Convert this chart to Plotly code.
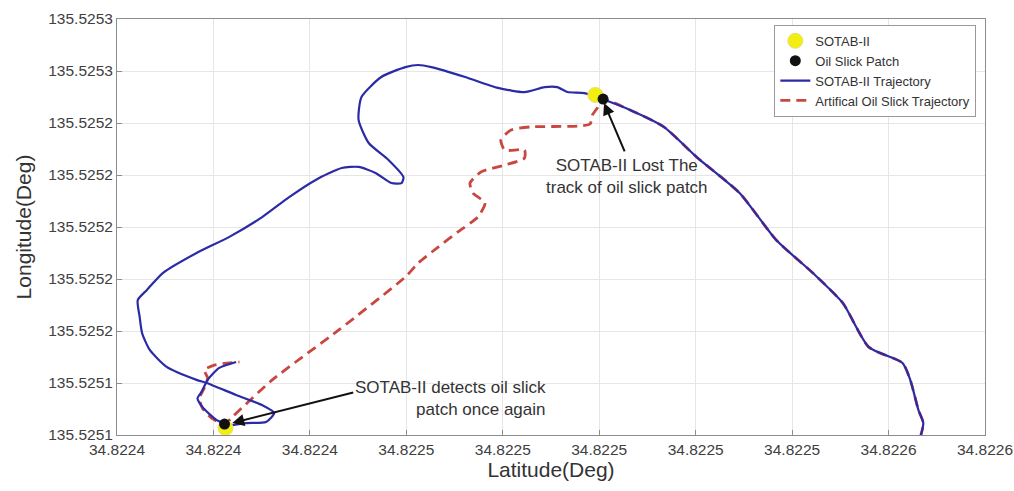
import plotly.graph_objects as go

# ---- data (degrees) ----
sotab_lat = [34.8225666, 34.8225672, 34.8225662, 34.8225645, 34.8225629, 34.8225559, 34.8225505,
             34.8225443, 34.8225367, 34.8225291, 34.8225202, 34.8225134, 34.8225064, 34.8225006,
             34.8224969, 34.8224934, 34.8224913, 34.8224887, 34.8224845, 34.8224790, 34.8224722,
             34.8224652, 34.8224625, 34.8224598, 34.8224548, 34.8224507, 34.8224501, 34.8224522,
             34.8224563, 34.8224594, 34.8224590, 34.8224569, 34.8224536, 34.8224501, 34.8224466,
             34.8224412, 34.8224357, 34.8224301, 34.8224233, 34.8224165, 34.8224095, 34.8224062,
             34.8224043, 34.8224047, 34.8224052, 34.8224068, 34.8224103, 34.8224165, 34.8224186,
             34.8224247, 34.8224301, 34.8224326, 34.8224309, 34.8224268, 34.8224233, 34.8224206,
             34.8224177, 34.8224167, 34.8224175, 34.8224188, 34.8224212, 34.8224247]
sotab_lon = [135.5251192, 135.5251246, 135.5251296, 135.5251412, 135.5251477, 135.5251538, 135.5251708,
             135.5251823, 135.5251950, 135.5252131, 135.5252269, 135.5252385, 135.5252450, 135.5252492,
             135.5252515, 135.5252519, 135.5252538, 135.5252538, 135.5252519, 135.5252535, 135.5252577,
             135.5252615, 135.5252623, 135.5252615, 135.5252577, 135.5252500, 135.5252412, 135.5252323,
             135.5252258, 135.5252192, 135.5252169, 135.5252169, 135.5252208, 135.5252231, 135.5252227,
             135.5252181, 135.5252115, 135.5252038, 135.5251962, 135.5251900, 135.5251823, 135.5251758,
             135.5251719, 135.5251654, 135.5251592, 135.5251527, 135.5251462, 135.5251412, 135.5251400,
             135.5251354, 135.5251315, 135.5251285, 135.5251250, 135.5251246, 135.5251238, 135.5251258,
             135.5251308, 135.5251342, 135.5251365, 135.5251412, 135.5251458, 135.5251481]

oil_lat = [34.8225666, 34.8225672, 34.8225662, 34.8225645, 34.8225629, 34.8225559, 34.8225505,
           34.8225443, 34.8225367, 34.8225291, 34.8225202, 34.8225134, 34.8225064, 34.8225006,
           34.8224996, 34.8224986, 34.8224981, 34.8224955, 34.8224858, 34.8224817, 34.8224796,
           34.8224804, 34.8224845, 34.8224845, 34.8224804, 34.8224755, 34.8224732, 34.8224738,
           34.8224763, 34.8224748, 34.8224707, 34.8224666, 34.8224625, 34.8224598, 34.8224460,
           34.8224322, 34.8224239, 34.8224223, 34.8224196, 34.8224177, 34.8224171, 34.8224181,
           34.8224188, 34.8224181, 34.8224202, 34.8224254]
oil_lon = [135.5251192, 135.5251246, 135.5251296, 135.5251412, 135.5251477, 135.5251538, 135.5251708,
           135.5251823, 135.5251950, 135.5252131, 135.5252269, 135.5252385, 135.5252450, 135.5252492,
           135.5252458, 135.5252431, 135.5252396, 135.5252388, 135.5252385, 135.5252373, 135.5252335,
           135.5252296, 135.5252296, 135.5252265, 135.5252238, 135.5252212, 135.5252169, 135.5252131,
           135.5252092, 135.5252038, 135.5251981, 135.5251923, 135.5251862, 135.5251808, 135.5251604,
           135.5251412, 135.5251269, 135.5251242, 135.5251265, 135.5251304, 135.5251342, 135.5251381,
           135.5251419, 135.5251450, 135.5251469, 135.5251481]

sotab_pos_lat = [34.8224992, 34.8224225]
sotab_pos_lon = [135.5252508, 135.5251227]
patch_lat = [34.8225008, 34.8224223]
patch_lon = [135.5252492, 135.5251242]

x_ticks = [34.82240, 34.82242, 34.82244, 34.82246, 34.82248, 34.82250, 34.82252, 34.82254, 34.82256, 34.82258]
x_labels = ["34.8224", "34.8224", "34.8224", "34.8225", "34.8225", "34.8225", "34.8225", "34.8225", "34.8226", "34.8226"]
y_ticks = [135.52512, 135.52514, 135.52516, 135.52518, 135.52520, 135.52522, 135.52524, 135.52526, 135.52528]
y_labels = ["135.5251", "135.5251", "135.5252", "135.5252", "135.5252", "135.5252", "135.5252", "135.5253", "135.5253"]

FONT = "Liberation Sans, Arial, sans-serif"

fig = go.Figure()
fig.add_trace(go.Scatter(x=oil_lat, y=oil_lon, mode="lines", name="Artifical Oil Slick Trajectory",
                         line=dict(color="#c9473f", width=2.8, dash="10px,6px", shape="spline",
                                   smoothing=0.6), legendrank=4))
fig.add_trace(go.Scatter(x=sotab_lat, y=sotab_lon, mode="lines", name="SOTAB-II Trajectory",
                         line=dict(color="#2b2ba6", width=2.2, shape="spline", smoothing=0.6),
                         legendrank=3))
fig.add_trace(go.Scatter(x=sotab_pos_lat, y=sotab_pos_lon, mode="markers", name="SOTAB-II",
                         marker=dict(color="#f2ef10", size=15, line=dict(color="#e6df7a", width=1)),
                         legendrank=1))
fig.add_trace(go.Scatter(x=patch_lat, y=patch_lon, mode="markers", name="Oil Slick Patch",
                         marker=dict(color="#111111", size=11), legendrank=2))

# arrows
fig.add_annotation(x=34.8225010, y=135.5252477, ax=34.8225054, ay=135.5252285,
                   xref="x", yref="y", axref="x", ayref="y", text="", showarrow=True,
                   arrowhead=2, arrowsize=1.2, arrowwidth=2, arrowcolor="#111111")
fig.add_annotation(x=34.8224239, y=135.5251246, ax=34.8224493, ay=135.5251365,
                   xref="x", yref="y", axref="x", ayref="y", text="", showarrow=True,
                   arrowhead=2, arrowsize=1.2, arrowwidth=2, arrowcolor="#111111")
# texts
fig.add_annotation(x=34.8225058, y=135.5252196, xref="x", yref="y",
                   text="SOTAB-II Lost The<br>track of oil slick patch", showarrow=False,
                   xanchor="center", yanchor="middle", align="center",
                   font=dict(family=FONT, size=17, color="#333333"))
fig.add_annotation(x=34.8224893, y=135.5251342, xref="x", yref="y",
                   text="SOTAB-II detects oil slick<br>patch once again", showarrow=False,
                   xanchor="right", yanchor="middle", align="right",
                   font=dict(family=FONT, size=17, color="#333333"))

axis_common = dict(showgrid=True, gridcolor="#e6e6e6", gridwidth=1, showline=True,
                   linecolor="#8c8c8c", linewidth=1, mirror=True, ticks="inside", ticklen=5,
                   tickcolor="#8c8c8c", zeroline=False, ticklabeloverflow="allow",
                   tickfont=dict(family=FONT, size=15.5, color="#404040"))

fig.update_layout(
    width=1014, height=491,
    margin=dict(l=117, r=29, t=19, b=56),
    paper_bgcolor="white", plot_bgcolor="white",
    showlegend=True,
    legend=dict(x=0.99, y=0.986, xanchor="right", yanchor="top",
                bgcolor="white", bordercolor="#9a9a9a", borderwidth=1,
                font=dict(family=FONT, size=13, color="#333333"),
                tracegroupgap=0, itemwidth=30),
    xaxis=dict(range=[34.8223999999, 34.8225800001], tickvals=x_ticks, ticktext=x_labels,
               title=dict(text="Latitude(Deg)", font=dict(family=FONT, size=21, color="#333333"),
                          standoff=4),
               automargin=False, **axis_common),
    yaxis=dict(range=[135.5251199999, 135.5252800001], tickvals=y_ticks, ticktext=y_labels,
               title=dict(text="Longitude(Deg)", font=dict(family=FONT, size=21, color="#333333"),
                          standoff=10),
               automargin=False, **axis_common),
)

fig.write_html("out.html")
